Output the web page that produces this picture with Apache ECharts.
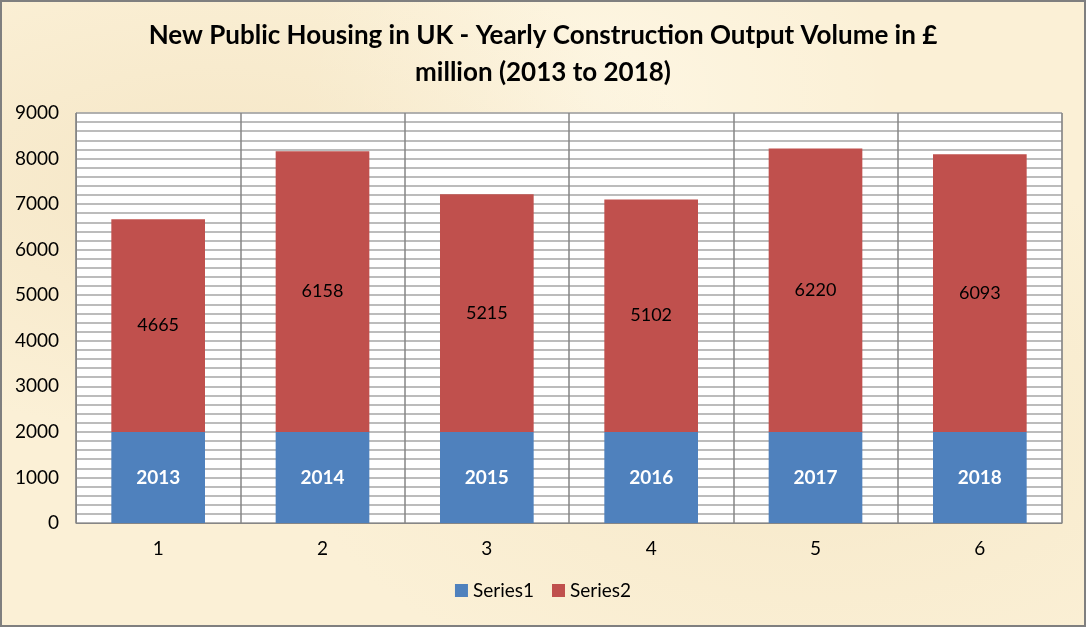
<!DOCTYPE html>
<html>
<head>
<meta charset="utf-8">
<script src="https://cdn.jsdelivr.net/npm/echarts@6/dist/echarts.min.js"></script>
<style>
    html, body { margin: 0; padding: 0; }
    #frame {
        position: absolute; left: 0; top: 0;
        width: 1082px; height: 623px;
        border: 2px solid #7f7f7f;
        background-color: #fbf0d6;
        background-image:
            radial-gradient(ellipse at 20% 30%, rgba(240,222,185,0.55), rgba(0,0,0,0) 40%),
            radial-gradient(ellipse at 75% 70%, rgba(242,226,190,0.5), rgba(0,0,0,0) 45%),
            radial-gradient(ellipse at 55% 15%, rgba(255,250,235,0.6), rgba(0,0,0,0) 35%);
    }
    #chart { width: 1082px; height: 623px; }
</style>
</head>
<body>
<div id="frame"><div id="chart"></div></div>
<script>
// values
const categories = ['1', '2', '3', '4', '5', '6'];
const years = ['2013', '2014', '2015', '2016', '2017', '2018'];
const series1 = [2000, 2000, 2000, 2000, 2000, 2000];
const series2 = [4665, 6158, 5215, 5102, 6220, 6093];
const yTicks = { min: 0, max: 9000, interval: 1000 };

const font = 'Lato, "Open Sans", sans-serif';

const chart = echarts.init(document.getElementById('chart'));
chart.setOption({
    animation: false,
    textStyle: { fontFamily: font },
    title: {
        text: 'New Public Housing in UK - Yearly Construction Output Volume in £\nmillion (2013 to 2018)',
        left: 'center',
        top: 10,
        textStyle: { fontSize: 26, fontWeight: 'bold', color: '#000', lineHeight: 37, fontFamily: font }
    },
    legend: {
        bottom: 20,
        left: 'center',
        itemWidth: 13,
        itemHeight: 13,
        itemGap: 18,
        icon: 'rect',
        textStyle: { fontSize: 19, color: '#000', fontFamily: font },
        data: ['Series1', 'Series2']
    },
    grid: {
        left: 74, right: 22, top: 111, bottom: 102,
        show: true,
        backgroundColor: '#ffffff',
        borderColor: '#a6a6a6',
        borderWidth: 1
    },
    xAxis: {
        type: 'category',
        data: categories,
        axisLine: { lineStyle: { color: '#868686' } },
        axisTick: { show: false },
        axisLabel: { fontSize: 19, color: '#000', margin: 16 },
        splitLine: { show: true, lineStyle: { color: '#868686', width: 1.5 } }
    },
    yAxis: {
        type: 'value',
        min: yTicks.min,
        max: yTicks.max,
        interval: yTicks.interval,
        axisLine: { show: true, lineStyle: { color: '#868686' } },
        axisTick: { show: false },
        axisLabel: { fontSize: 19, color: '#000', margin: 17, formatter: v => String(v) },
        splitLine: { lineStyle: { color: '#a6a6a6', width: 1.5 } },
        minorTick: { show: false, splitNumber: 5 },
        minorSplitLine: { show: true, lineStyle: { color: '#a6a6a6', width: 1.5 } }
    },
    series: [
        {
            name: 'Series1',
            type: 'bar',
            stack: 'total',
            data: series1,
            barCategoryGap: '43%',
            itemStyle: { color: '#4f81bd' },
            label: {
                show: true,
                position: 'inside',
                formatter: p => years[p.dataIndex],
                color: '#fff',
                fontSize: 19,
                fontWeight: 'bold',
                fontFamily: font
            }
        },
        {
            name: 'Series2',
            type: 'bar',
            stack: 'total',
            data: series2,
            itemStyle: { color: '#c0504d' },
            label: {
                show: true,
                position: 'inside',
                color: '#000',
                fontSize: 18,
                fontFamily: font
            }
        }
    ]
});
</script>
</body>
</html>
